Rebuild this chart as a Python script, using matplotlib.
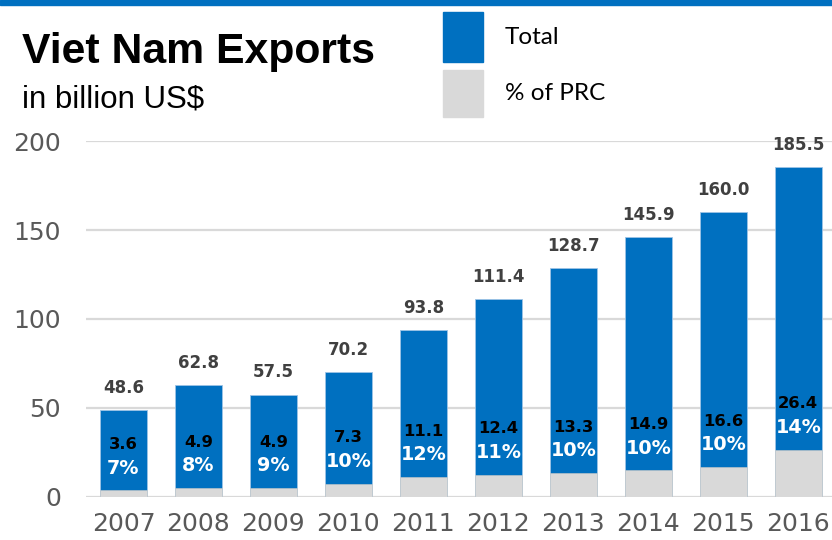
import matplotlib
matplotlib.use("Agg")
import matplotlib.pyplot as plt
from matplotlib.patches import Rectangle

# Viet Nam exports, billion US$, and the part going to the PRC
years = ["2007", "2008", "2009", "2010", "2011", "2012", "2013", "2014", "2015", "2016"]
total = [48.6, 62.8, 57.5, 70.2, 93.8, 111.4, 128.7, 145.9, 160.0, 185.5]
prc = [3.6, 4.9, 4.9, 7.3, 11.1, 12.4, 13.3, 14.9, 16.6, 26.4]
prc_pct = [7, 8, 9, 10, 12, 11, 10, 10, 10, 14]
yticks = [0, 50, 100, 150, 200]

BLUE = "#0070C0"
GREY = "#D9D9D9"
NUM_FONT = "DejaVu Sans"

fig = plt.figure(figsize=(8.32, 5.40), dpi=100)
ax = fig.add_axes([86 / 832, 1 - 496.7 / 540, 1 - 86 / 832, (496.7 - 141.3) / 540])

x = list(range(len(years)))
ax.bar(x, total, width=0.62, color=BLUE, edgecolor="#9DC3E6", linewidth=0.6, zorder=3)
ax.bar(x, prc, width=0.62, color=GREY, edgecolor="#C8C8C8", linewidth=0.4, zorder=4)

for xi, t, p, pc in zip(x, total, prc, prc_pct):
    ax.annotate(f"{t:.1f}", (xi, t), xytext=(0, 16), textcoords="offset points",
                ha="center", va="center", fontsize=12, fontweight="bold",
                color="#404040", family=NUM_FONT, zorder=5, annotation_clip=False)
    ax.annotate(f"{p:.1f}", (xi, p), xytext=(0, 33), textcoords="offset points",
                ha="center", va="center", fontsize=11.8, fontweight="bold",
                color="black", family=NUM_FONT, zorder=5)
    ax.annotate(f"{pc}%", (xi, p), xytext=(0, 16), textcoords="offset points",
                ha="center", va="center", fontsize=13.8, fontweight="bold",
                color="white", family=NUM_FONT, zorder=5)

ax.set_xlim(-0.5, 9.45)
ax.set_ylim(0, 200)
ax.set_yticks(yticks)
ax.set_yticklabels([str(v) for v in yticks])
ax.set_xticks(x)
ax.set_xticklabels(years)
ax.yaxis.grid(True, color=GREY, linewidth=1.6, zorder=0)
ax.set_axisbelow(True)
for s in ax.spines.values():
    s.set_visible(False)
ax.tick_params(axis="both", length=0, labelsize=18, labelcolor="#595959")
ax.tick_params(axis="y", pad=18)
ax.tick_params(axis="x", pad=11)
for lab in ax.get_xticklabels() + ax.get_yticklabels():
    lab.set_family(NUM_FONT)

# header: stripe, title and legend
fig.patches.append(Rectangle((0, 1 - 5 / 540), 1, 5 / 540, transform=fig.transFigure,
                             color=BLUE, zorder=10))
fig.text(22 / 832, 1 - 63 / 540, "Viet Nam Exports", fontsize=30.8, fontweight="bold",
         family="Liberation Sans", color="black", va="baseline")
fig.text(22 / 832, 1 - 107 / 540, "in billion US$", fontsize=22.5,
         family="Liberation Sans", color="black", va="baseline")
fig.patches.append(Rectangle((443 / 832, 1 - 62 / 540), 40 / 832, 50 / 540,
                             transform=fig.transFigure, color=BLUE))
fig.patches.append(Rectangle((443 / 832, 1 - 117 / 540), 40 / 832, 47 / 540,
                             transform=fig.transFigure, color=GREY))
fig.text(505 / 832, 1 - 38 / 540, "Total", fontsize=17.5, family="Lato",
         color="black", va="center")
fig.text(505 / 832, 1 - 93 / 540, "% of PRC", fontsize=17.5, family="Lato",
         color="black", va="center")

fig.savefig("out.png", dpi=100)
